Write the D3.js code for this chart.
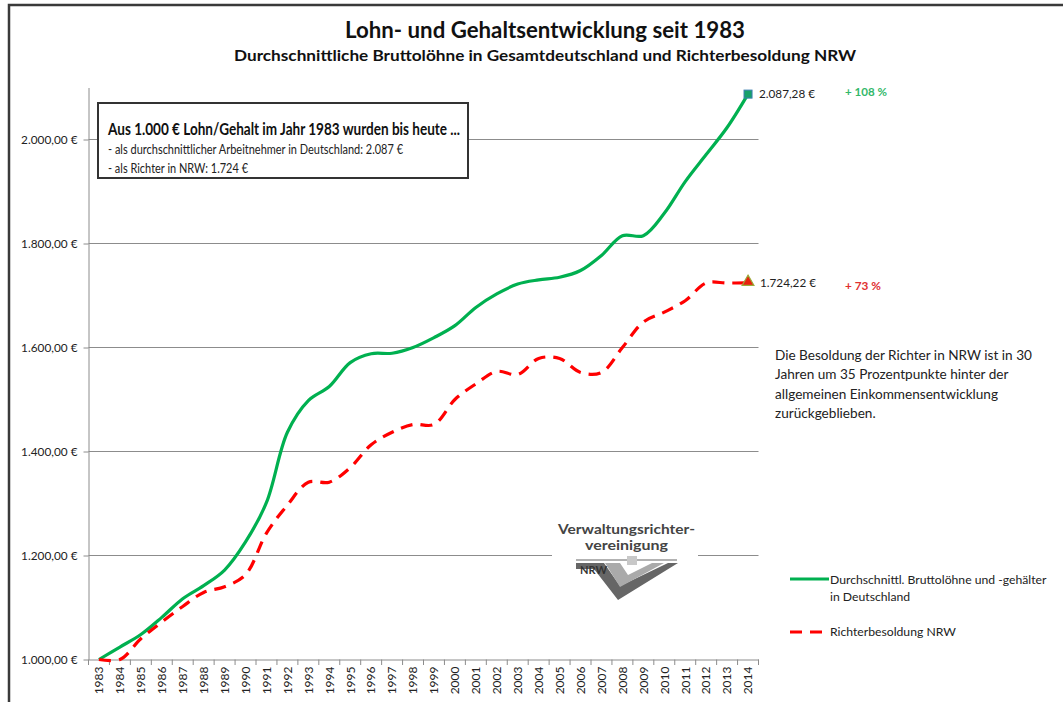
<!DOCTYPE html>
<html>
<head>
<meta charset="utf-8">
<script src="https://cdn.jsdelivr.net/npm/d3@7"></script>
<style>
  body { margin: 0; background: #fff; }
  svg text { font-family: Lato, "Open Sans", sans-serif; }
</style>
</head>
<body>
<svg id="chart"></svg>
<script>
const width = 1063;
const height = 702;

const years = d3.range(1983, 2015);
const lohn = [1000, 1024, 1048, 1081, 1117, 1142, 1172, 1226, 1302, 1437, 1498, 1525, 1571, 1588, 1589, 1600,
  1619, 1642, 1677, 1703, 1722, 1730, 1735, 1748, 1777, 1815, 1815, 1858, 1919, 1971, 2023, 2087.28];
const richter = [1000, 1000, 1040, 1072, 1102, 1129, 1140, 1163, 1243, 1297, 1341, 1341, 1369, 1413, 1437, 1452,
  1452, 1500, 1530, 1554, 1548, 1579, 1579, 1552, 1552, 1600, 1649, 1668, 1690, 1724, 1724, 1724.22];
const yTicks = [1000, 1200, 1400, 1600, 1800, 2000];

const de = d3.formatLocale({ decimal: ",", thousands: ".", grouping: [3], currency: ["", " €"] });
const euro = (v) => de.format(",.2f")(v) + " €";

const svg = d3.select("#chart").attr("width", width).attr("height", height);

// squeeze a text horizontally to the given width (reference font is narrower than Lato)
function squeeze(sel, w) {
  sel.attr("textLength", w).attr("lengthAdjust", "spacingAndGlyphs");
  return sel;
}

// frame
svg.append("path").attr("d", `M9,${height} V5 H${width}`).attr("fill", "none").attr("stroke", "#3a3a3a").attr("stroke-width", 2.5);

const x = d3.scaleBand().domain(years).range([88.5, 758.5]);
const y = d3.scaleLinear().domain([1000, 2100]).range([659.5, 87.5]);
const cx = (yr) => x(yr) + x.bandwidth() / 2;

// titles
squeeze(svg.append("text").attr("x", 345).attr("y", 38)
  .attr("font-size", 22).attr("font-weight", "bold").attr("fill", "#111")
  .text("Lohn- und Gehaltsentwicklung seit 1983"), 400);
squeeze(svg.append("text").attr("x", 234).attr("y", 61)
  .attr("font-size", 15.5).attr("font-weight", "bold").attr("fill", "#111")
  .text("Durchschnittliche Bruttolöhne in Gesamtdeutschland und Richterbesoldung NRW"), 622);

// grid
svg.append("g").selectAll("line").data(yTicks.slice(1)).join("line")
  .attr("x1", 88.5).attr("x2", 758.5).attr("y1", (d) => y(d)).attr("y2", (d) => y(d))
  .attr("stroke", "#8c8c8c").attr("stroke-width", 1.2);

// y axis
const yAxis = svg.append("g").attr("transform", "translate(88.5,0)")
  .call(d3.axisLeft(y).tickValues(yTicks).tickFormat(euro).tickSize(5).tickSizeOuter(0).tickPadding(6));
yAxis.select(".domain").attr("stroke", "#8c8c8c");
yAxis.selectAll(".tick line").attr("stroke", "#8c8c8c");
yAxis.selectAll("text").attr("font-size", 11.8).attr("fill", "#222").attr("font-family", "Lato, sans-serif");

// x axis
const xAxis = svg.append("g").attr("transform", "translate(0,659.5)")
  .call(d3.axisBottom(x).tickSize(0).tickSizeOuter(0));
xAxis.select(".domain").attr("stroke", "#8c8c8c");
xAxis.selectAll("text").attr("font-size", 12).attr("fill", "#222")
  .attr("font-family", "'Liberation Sans', Arial, sans-serif")
  .attr("transform", "rotate(-90)").attr("text-anchor", "end")
  .attr("x", -7).attr("y", 0).attr("dy", "0.36em");
svg.append("g").selectAll("line").data(years.concat([2015])).join("line")
  .attr("x1", (d) => (d === 2015 ? 758.5 : x(d))).attr("x2", (d) => (d === 2015 ? 758.5 : x(d)))
  .attr("y1", 659.5).attr("y2", 665).attr("stroke", "#8c8c8c");

// logo (covers grid)
const logo = svg.append("g");
logo.append("rect").attr("x", 552).attr("y", 515).attr("width", 146).attr("height", 90).attr("fill", "#fff");
squeeze(logo.append("text").attr("x", 558).attr("y", 534).attr("font-size", 13)
  .attr("font-weight", "bold").attr("fill", "#444").attr("font-family", "'DejaVu Sans', sans-serif").text("Verwaltungsrichter-"), 137);
squeeze(logo.append("text").attr("x", 585).attr("y", 550).attr("font-size", 13)
  .attr("font-weight", "bold").attr("fill", "#444").attr("font-family", "'DejaVu Sans', sans-serif").text("vereinigung"), 83);
logo.append("path").attr("d", "M576,563 H604 L620,586 L668,563 H678 L618,600 L594,569 H576 Z").attr("fill", "#666");
logo.append("path").attr("d", "M605,563 H620 L628,575 L652,563 H664 L620,587 Z").attr("fill", "#aaa");
logo.append("path").attr("d", "M576,560 H677").attr("stroke", "#999").attr("stroke-width", 1.5);
logo.append("rect").attr("x", 627).attr("y", 556).attr("width", 10).attr("height", 9).attr("fill", "#c8c8c8");
logo.append("text").attr("x", 580).attr("y", 574).attr("font-size", 11).attr("font-weight", "bold")
  .attr("fill", "#333").attr("font-family", "'DejaVu Sans', sans-serif").text("NRW");

// lines
const line = d3.line().x((d, i) => cx(years[i])).y((d) => y(d)).curve(d3.curveCatmullRom.alpha(0.5));
svg.append("path").datum(lohn).attr("d", line).attr("fill", "none").attr("stroke", "#00b050").attr("stroke-width", 3.2);
svg.append("path").datum(richter).attr("d", line).attr("fill", "none").attr("stroke", "#ff0000")
  .attr("stroke-width", 3.2).attr("stroke-dasharray", "12,8");

// end markers
const last = years.length - 1;
svg.append("rect").attr("x", cx(years[last]) - 4).attr("y", y(lohn[last]) - 4).attr("width", 8).attr("height", 8)
  .attr("fill", "#17a06a").attr("stroke", "#3b7fb0").attr("stroke-width", 1);
svg.append("path")
  .attr("d", d3.symbol(d3.symbolTriangle, 60)())
  .attr("transform", `translate(${cx(years[last])},${y(richter[last]) - 1})`)
  .attr("fill", "#e8210f").attr("stroke", "#9cab3a").attr("stroke-width", 1.2);

// end labels
squeeze(svg.append("text").attr("x", 759).attr("y", y(lohn[last]) + 4).attr("font-size", 12).attr("fill", "#222").text(euro(lohn[last])), 56);
squeeze(svg.append("text").attr("x", 845).attr("y", y(lohn[last]) + 2).attr("font-size", 12).attr("font-weight", "bold")
  .attr("fill", "#33b86a").text("+ 108 %"), 42);
squeeze(svg.append("text").attr("x", 760).attr("y", y(richter[last]) + 4).attr("font-size", 12).attr("fill", "#222").text(euro(richter[last])), 56);
squeeze(svg.append("text").attr("x", 845).attr("y", y(richter[last]) + 7).attr("font-size", 12).attr("font-weight", "bold")
  .attr("fill", "#e03030").text("+ 73 %"), 36);

// info box
svg.append("rect").attr("x", 98).attr("y", 103).attr("width", 370).attr("height", 75)
  .attr("fill", "#fff").attr("stroke", "#333").attr("stroke-width", 2);
squeeze(svg.append("text").attr("x", 108).attr("y", 135).attr("font-size", 17.5).attr("font-weight", "bold").attr("fill", "#111")
  .text("Aus 1.000 € Lohn/Gehalt im Jahr 1983 wurden bis heute ..."), 352);
squeeze(svg.append("text").attr("x", 108).attr("y", 154).attr("font-size", 14).attr("fill", "#222")
  .text("- als durchschnittlicher Arbeitnehmer in Deutschland: 2.087 €"), 295);
squeeze(svg.append("text").attr("x", 108).attr("y", 173).attr("font-size", 14).attr("fill", "#222")
  .text("- als Richter in NRW: 1.724 €"), 140);

// note
const note = ["Die Besoldung der Richter in NRW ist in 30", "Jahren um 35 Prozentpunkte hinter der",
  "allgemeinen Einkommensentwicklung", "zurückgeblieben."];
svg.append("g").selectAll("text").data(note).join("text")
  .attr("x", 775).attr("y", (d, i) => 360 + i * 19.3).attr("font-size", 13.6).attr("fill", "#222").text((d) => d);

// legend
svg.append("line").attr("x1", 790).attr("x2", 829).attr("y1", 579).attr("y2", 579).attr("stroke", "#00b050").attr("stroke-width", 3.2);
svg.append("text").attr("x", 830).attr("y", 584).attr("font-size", 12.2).attr("fill", "#222").text("Durchschnittl. Bruttolöhne und -gehälter");
svg.append("text").attr("x", 830).attr("y", 601).attr("font-size", 12.2).attr("fill", "#222").text("in Deutschland");
svg.append("line").attr("x1", 790).attr("x2", 828).attr("y1", 632).attr("y2", 632).attr("stroke", "#ff0000")
  .attr("stroke-width", 3.2).attr("stroke-dasharray", "12,8");
svg.append("text").attr("x", 830).attr("y", 636).attr("font-size", 12.2).attr("fill", "#222").text("Richterbesoldung NRW");
</script>
</body>
</html>
